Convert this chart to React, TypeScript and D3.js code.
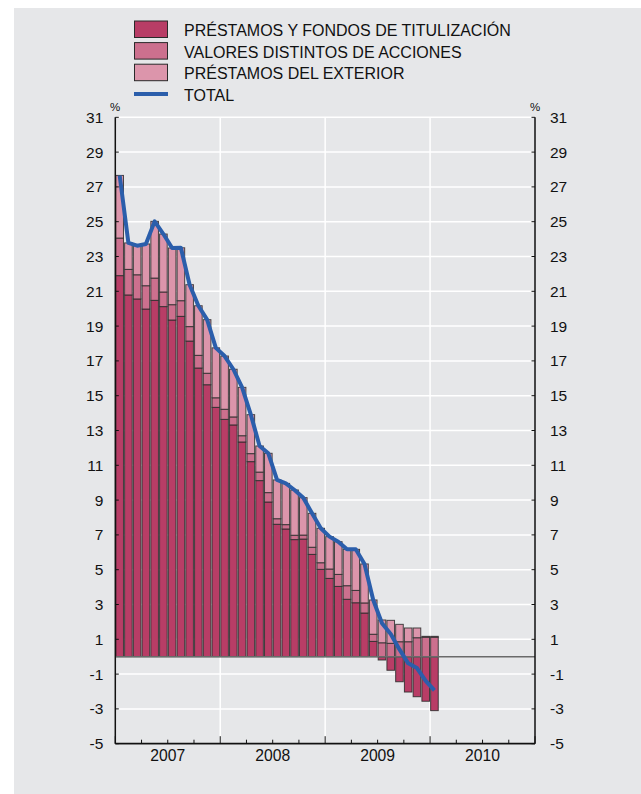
import React from "react";
import * as d3 from "d3";

// ---- Data ----
const categories: string[] = d3
  .timeMonth.range(new Date(2007, 0, 1), new Date(2010, 1, 1))
  .map((d) => d3.timeFormat("%Y-%m")(d));

const prestamosFondos: number[] = [
  21.9, 20.79, 20.56, 19.98, 20.48, 20.12, 19.35, 19.56, 18.14, 16.59, 15.63, 14.33,
  13.64, 13.32, 12.34, 11.21, 10.12, 8.89, 7.61, 7.34, 6.73, 6.76, 5.88, 5.02,
  4.5, 4.04, 3.3, 3.1, 2.51, 0.88, -0.19, -0.78, -1.44, -2.03, -2.3, -2.56, -3.1,
];
const valoresDistintos: number[] = [
  2.16, 1.47, 1.39, 1.34, 1.28, 0.84, 0.88, 0.9, 0.83, 0.73, 0.66, 0.55,
  0.58, 0.46, 0.36, 0.46, 0.49, 0.54, 0.32, 0.25, 0.25, 0.23, 0.41, 0.38,
  0.54, 0.69, 0.78, 0.71, 0.58, 0.41, 0.8, 0.77, 0.86, 0.86, 1.09, 1.12, 1.12,
];
const prestamosExterior: number[] = [
  3.6, 1.52, 1.67, 2.4, 3.26, 3.33, 3.26, 3.04, 2.41, 2.85, 3.08, 2.87,
  3.06, 2.74, 2.78, 2.24, 1.5, 2.26, 2.23, 2.37, 2.6, 2.15, 1.95, 1.98,
  1.86, 1.88, 2.09, 2.36, 2.24, 1.97, 1.31, 1.32, 1.0, 0.79, 0.56, 0.05, 0.05,
];
const total: number[] = [
  27.65, 23.78, 23.62, 23.72, 25.02, 24.29, 23.49, 23.5, 21.38, 20.17, 19.37, 17.75,
  17.28, 16.52, 15.48, 13.91, 12.11, 11.69, 10.16, 9.96, 9.58, 9.14, 8.24, 7.38,
  6.9, 6.61, 6.17, 6.17, 5.33, 3.26, 1.92, 1.31, 0.42, -0.38, -0.65, -1.39, -1.93,
];
const yTicks: number[] = [-5, -3, -1, 1, 3, 5, 7, 9, 11, 13, 15, 17, 19, 21, 23, 25, 27, 29, 31];
const years: string[] = ["2007", "2008", "2009", "2010"];
const seriesNames: string[] = [
  "PRÉSTAMOS Y FONDOS DE TITULIZACIÓN",
  "VALORES DISTINTOS DE ACCIONES",
  "PRÉSTAMOS DEL EXTERIOR",
];
const totalName = "TOTAL";

// ---- Styles ----
const W = 641;
const H = 794;
const colors = ["#b83d66", "#cc708e", "#dc95ab"];
const lineColor = "#2b5eab";
const bg = "#e6e7e9";
const font = "'Liberation Sans', Arial, sans-serif";

const left = 115.3;
const right = 535;
const top = 117.3;
const bottom = 743.7;

export default function App() {
  const nMonths = years.length * 12;
  const x = d3.scaleLinear().domain([0, nMonths]).range([left, right]);
  const y = d3.scaleLinear().domain([-5, 31]).range([bottom, top]);

  const rows = categories.map((c, i) => ({
    cat: c,
    i,
    a: prestamosFondos[i],
    b: valoresDistintos[i],
    c2: prestamosExterior[i],
  }));
  const stack = d3
    .stack<any>()
    .keys(["a", "b", "c2"])
    .offset(d3.stackOffsetDiverging);
  const stacked = stack(rows);

  const bw = 7.6;
  const line = d3
    .line<number>()
    .x((_, i) => x(i + 0.5))
    .y((d) => y(d));

  const quarterTicks = d3.range(0, nMonths + 1, 3);

  return (
    <svg
      width={W}
      height={H}
      style={{ position: "absolute", left: 0, top: 0, background: "#fff" }}
      fontFamily={font}
    >
      <rect x={14} y={8} width={W - 14} height={H - 8} fill={bg} />

      {/* horizontal grid */}
      {yTicks.map((t) => (
        <line key={"g" + t} x1={left} x2={right} y1={y(t)} y2={y(t)} stroke="#fff" strokeWidth={1.5} />
      ))}
      {/* vertical grid at year boundaries */}
      {years.slice(1).map((_, k) => (
        <line
          key={"v" + k}
          x1={x((k + 1) * 12)}
          x2={x((k + 1) * 12)}
          y1={top}
          y2={bottom}
          stroke="#fff"
          strokeWidth={1.5}
        />
      ))}

      {/* bars */}
      {stacked.map((s, si) => (
        <g key={"s" + si}>
          {s.map((d, i) => {
            const y0 = y(Math.max(d[0], d[1]));
            const y1 = y(Math.min(d[0], d[1]));
            return (
              <rect
                key={i}
                x={x(i + 0.5) - bw / 2}
                y={y0}
                width={bw}
                height={Math.max(0, y1 - y0)}
                fill={colors[si]}
                stroke="#2a2a2a"
                strokeWidth={1}
                strokeOpacity={0.85}
              />
            );
          })}
        </g>
      ))}

      {/* zero line */}
      <line x1={left} x2={right} y1={y(0)} y2={y(0)} stroke="#6a6a6a" strokeWidth={1.5} />

      {/* total line */}
      <path d={line(total) || ""} fill="none" stroke={lineColor} strokeWidth={4} strokeLinejoin="round" />

      {/* axes */}
      <line x1={left} x2={left} y1={top} y2={bottom} stroke="#111" strokeWidth={1.5} />
      <line x1={right} x2={right} y1={top} y2={bottom} stroke="#111" strokeWidth={1.5} />
      <line x1={left} x2={right} y1={bottom} y2={bottom} stroke="#111" strokeWidth={1.8} />
      {yTicks.map((t) => (
        <g key={"t" + t}>
          <line x1={left} x2={left + 3.5} y1={y(t)} y2={y(t)} stroke="#111" strokeWidth={1} />
          <line x1={right - 3.5} x2={right} y1={y(t)} y2={y(t)} stroke="#111" strokeWidth={1} />
          <text x={left - 12} y={y(t)} dy="0.36em" textAnchor="end" fontSize={15.5} fill="#111">
            {t}
          </text>
          <text x={right + 15} y={y(t)} dy="0.36em" textAnchor="start" fontSize={15.5} fill="#111">
            {t}
          </text>
        </g>
      ))}
      {quarterTicks.map((q) => (
        <line
          key={"q" + q}
          x1={x(q)}
          x2={x(q)}
          y1={bottom}
          y2={bottom - (q % 12 === 0 ? 7.5 : 4)}
          stroke="#111"
          strokeWidth={1}
        />
      ))}
      {years.map((yr, k) => (
        <text key={yr} x={x(k * 12 + 6)} y={761} textAnchor="middle" fontSize={15.7} fill="#111">
          {yr}
        </text>
      ))}
      <text x={110} y={111} fontSize={11.5} fill="#111">%</text>
      <text x={530} y={111} fontSize={11.5} fill="#111">%</text>

      {/* legend */}
      {seriesNames.map((n, k) => (
        <g key={n}>
          <rect
            x={134.5}
            y={21 + k * 21.6}
            width={33}
            height={16.5}
            fill={colors[k]}
            stroke="#2a2a2a"
            strokeWidth={1}
          />
          <text x={184} y={36 + k * 21.6} fontSize={16} fill="#111">
            {n}
          </text>
        </g>
      ))}
      <line x1={134} x2={168} y1={94} y2={94} stroke={lineColor} strokeWidth={4} />
      <text x={184} y={100.6} fontSize={16} fill="#111">
        {totalName}
      </text>
    </svg>
  );
}
